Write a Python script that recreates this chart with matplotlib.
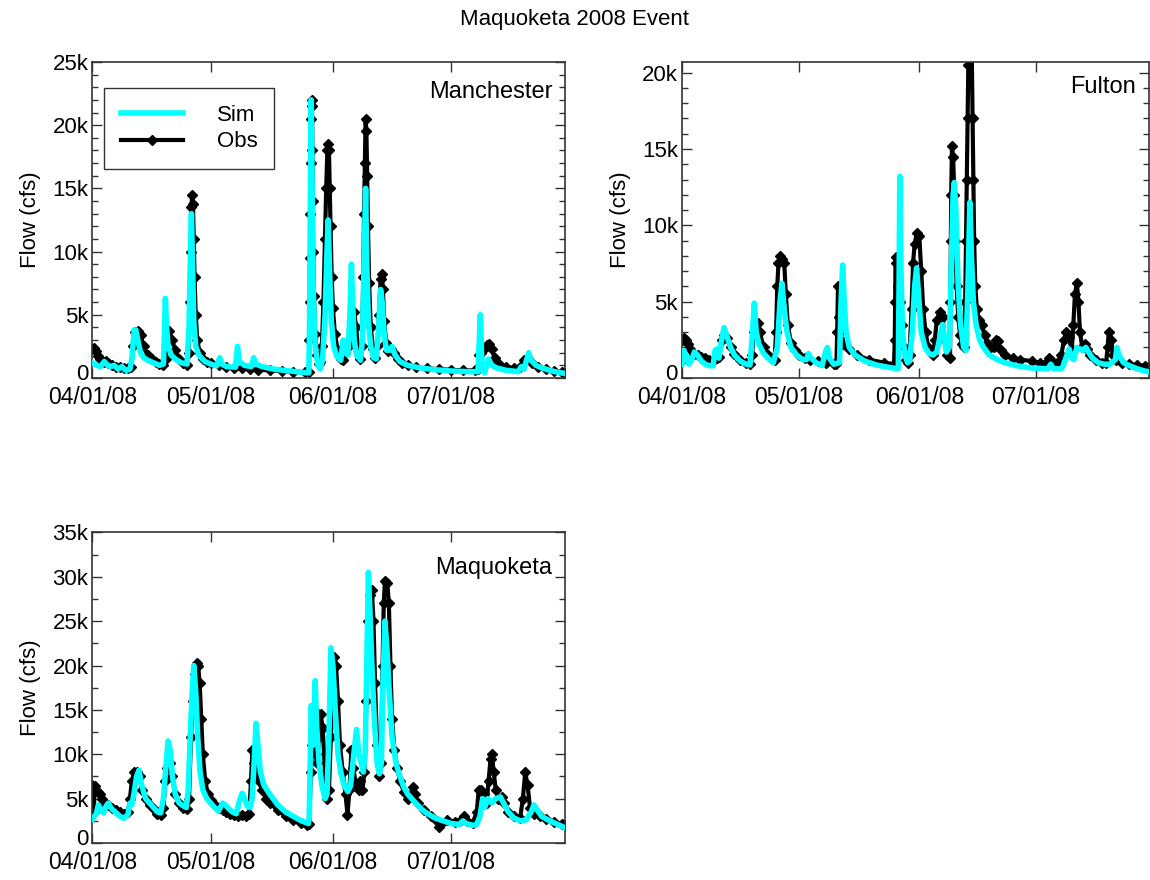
import numpy as np
import matplotlib
matplotlib.use("Agg")
import matplotlib.pyplot as plt
import matplotlib.dates as mdates
import matplotlib.transforms as mtransforms
from matplotlib.ticker import MultipleLocator, FuncFormatter

plt.rcParams['font.family'] = ['Liberation Sans', 'DejaVu Sans']

start = np.datetime64('2008-04-01T00:00')
end = np.datetime64('2008-07-30T00:00')

# ---- Manchester (days since 04/01/08, flow in cfs) ----
man_obs_day = [0.0, 0.5, 1.0, 1.5, 2.0, 3.0, 3.5, 4.0, 5.0, 6.0, 7.0, 8.0, 9.0, 9.8, 10.3, 10.8, 11.5, 12.2,
               13.0, 14.0, 15.0, 16.0, 17.0, 18.0, 18.6, 19.0, 19.5, 20.2, 21.0, 22.0, 23.0, 24.0, 24.4,
               24.7, 24.9, 25.1, 25.3, 25.5, 25.7, 25.9, 26.2, 26.6, 27.2, 28.0, 29.0, 30.0, 32.0, 34.0,
               36.0, 38.0, 40.0, 42.0, 45.0, 48.0, 51.0, 54.0, 54.9, 55.0, 55.1, 55.2, 55.3, 55.4, 55.5,
               55.6, 55.7, 55.8, 55.9, 56.0, 56.2, 56.5, 56.9, 57.4, 57.8, 58.2, 58.6, 59.0, 59.3, 59.6,
               59.8, 60.0, 60.2, 60.4, 60.7, 61.0, 61.5, 62.2, 63.0, 63.5, 64.0, 64.5, 65.2, 65.8, 66.4,
               66.9, 67.4, 68.0, 68.4, 68.7, 68.9, 69.1, 69.3, 69.5, 69.7, 69.9, 70.2, 70.6, 71.2, 71.8,
               72.3, 72.7, 73.1, 73.4, 73.7, 74.0, 74.5, 75.0, 75.8, 76.5, 77.5, 78.5, 80.0, 82.0, 85.0,
               88.0, 91.0, 94.0, 97.0, 97.7, 98.0, 98.5, 99.3, 100.0, 100.7, 101.3, 102.0, 103.0, 105.0,
               107.0, 108.5, 109.5, 110.5, 111.5, 113.0, 115.0, 117.0, 119.0, 120.0]
man_obs_cfs = [2300, 2350, 2100, 1700, 1500, 1300, 1350, 1200, 1000, 900, 850, 800, 750, 900, 2500, 3600, 3700, 3400,
               2500, 1800, 1500, 1300, 1100, 1000, 1500, 3000, 3700, 3000, 2200, 1500, 1200, 1000, 2000,
               6000, 10000, 13500, 14500, 13800, 11000, 8000, 5000, 3000, 2000, 1500, 1300, 1150, 1000, 900,
               800, 750, 700, 650, 600, 550, 500, 450, 450, 3000, 6000, 9500, 13000, 17000, 20500,
               22000, 21500, 18000, 14000, 10000, 6500, 3500, 1800, 1100, 1300, 2500, 6000, 11000, 15000, 18000,
               18500, 18000, 15000, 12000, 8000, 5500, 3500, 2200, 1500, 1400, 2000, 2800, 2500, 4000, 5200,
               4000, 2200, 1500, 2500, 8000, 13000, 17000, 20500, 19500, 16000, 12000, 7500, 4000, 2300, 1600,
               2500, 5000, 7800, 8200, 7000, 4500, 2800, 2100, 2300, 2000, 1500, 1200, 1000, 850, 750,
               700, 650, 600, 600, 700, 1800, 2000, 2300, 2600, 2700, 2300, 1600, 1200, 900,
               750, 900, 1400, 1500, 1200, 900, 700, 550, 450, 400]
man_sim_day = [0.0, 1.0, 2.0, 3.0, 3.5, 4.5, 5.5, 6.5, 7.5, 8.5, 9.5, 10.0, 10.6, 11.0, 11.5, 12.2, 13.0, 14.0,
               15.5, 17.0, 18.0, 18.3, 18.5, 18.8, 19.2, 20.0, 21.0, 22.5, 24.0, 24.5, 24.8, 25.1, 25.4, 25.7,
               26.2, 27.0, 28.5, 30.0, 31.5, 32.3, 32.8, 34.0, 36.3, 36.8, 37.3, 38.5, 40.3, 40.9, 41.5, 43.0,
               46.0, 50.0, 54.9, 55.1, 55.3, 55.5, 55.7, 56.0, 56.5, 57.2, 57.8, 58.4, 59.0, 59.5, 59.8, 60.2,
               60.6, 61.2, 62.0, 63.0, 63.6, 64.2, 64.8, 65.3, 65.7, 66.0, 66.4, 67.0, 68.0, 68.5, 68.9, 69.3,
               69.6, 70.0, 70.6, 71.3, 72.0, 72.6, 73.1, 73.5, 74.0, 74.6, 75.5, 76.0, 76.8, 78.0, 80.0, 83.0,
               87.0, 91.0, 95.0, 97.8, 98.2, 98.4, 98.7, 99.0, 99.5, 100.0, 100.5, 101.3, 102.5, 105.0, 108.0,
               108.8, 109.5, 110.2, 110.7, 111.3, 112.5, 114.0, 116.0, 118.0, 120.0]
man_sim_cfs = [1200, 1000, 900, 1300, 1100, 900, 1000, 700, 900, 600, 700, 1500, 3800, 3800, 3000, 2000, 1600, 1400,
               1200, 1000, 1100, 4000, 6300, 4000, 2500, 1800, 1500, 1200, 1100, 4000, 9000, 13000, 9000, 4500,
               2500, 1800, 1300, 1100, 950, 1600, 1100, 900, 850, 2500, 1300, 1000, 900, 1600, 1100, 900,
               700, 550, 400, 5000, 15000, 22000, 16000, 7000, 2500, 1000, 700, 1500, 5000, 10000, 12500, 8000,
               4500, 2500, 1700, 1400, 3000, 2000, 1800, 5000, 9000, 6000, 3000, 1800, 1400, 3000, 9000, 15000,
               9000, 4500, 2500, 1600, 1500, 4000, 7000, 6000, 3500, 2200, 2200, 2500, 1800, 1300, 1000, 800,
               650, 550, 500, 500, 3500, 5000, 2000, 600, 400, 1000, 1500, 1000, 800, 600, 500,
               900, 700, 1500, 2000, 1400, 1000, 800, 600, 450, 350]

# ---- Fulton ----
ful_obs_day = [0.0, 0.5, 1.0, 1.5, 2.0, 3.0, 4.0, 5.0, 6.0, 7.0, 8.0, 9.0, 9.5, 10.3, 10.8, 11.5, 12.5, 13.5,
               15.0, 16.5, 17.5, 18.0, 18.5, 19.0, 19.5, 20.0, 21.0, 22.0, 23.0, 23.8, 24.2, 24.5, 24.8, 25.2,
               25.8, 26.3, 26.7, 27.2, 28.0, 29.0, 30.0, 31.5, 33.0, 35.0, 37.0, 39.0, 39.7, 39.9, 40.1, 40.3,
               40.6, 41.0, 41.5, 43.0, 45.0, 48.0, 52.0, 54.5, 54.7, 54.8, 54.9, 55.0, 55.4, 56.0, 56.5, 57.0,
               57.5, 58.0, 58.5, 59.0, 59.4, 59.8, 60.4, 61.0, 61.5, 62.0, 62.6, 63.3, 64.0, 64.6, 65.0, 65.5,
               66.2, 67.0, 67.5, 68.0, 68.9, 69.0, 69.1, 69.2, 69.4, 69.7, 70.0, 70.3, 70.6, 71.0, 71.5, 72.0,
               72.4, 72.8, 73.0, 73.2, 73.4, 73.6, 73.8, 74.2, 74.5, 74.7, 74.9, 75.1, 75.4, 75.8, 76.3, 77.0,
               77.8, 78.5, 79.5, 80.3, 80.8, 81.3, 81.9, 83.0, 85.0, 87.0, 90.0, 92.0, 93.5, 94.4, 95.2, 96.5,
               97.5, 98.2, 98.7, 99.4, 100.2, 100.6, 101.0, 101.5, 101.9, 102.3, 102.9, 103.5, 104.2, 105.0,
               106.5, 108.0, 109.0, 109.4, 109.7, 110.3, 110.8, 111.5, 113.0, 115.0, 117.0, 119.0, 120.0]
ful_obs_cfs = [2500, 2600, 2500, 2200, 1900, 1600, 1500, 1400, 1300, 1200, 1100, 1300, 1400, 2500, 2800, 2600, 2000, 1600,
               1200, 1000, 900, 1500, 3000, 3500, 3600, 3000, 2000, 1500, 1300, 1200, 3000, 6000, 7500, 8000,
               7800, 7500, 5500, 3500, 2300, 1800, 1500, 1300, 1200, 1100, 1000, 900, 900, 3000, 6000, 4000,
               3000, 2500, 2200, 1900, 1500, 1200, 1000, 900, 2500, 5000, 7900, 7500, 6000, 5000, 3500, 2000,
               1200, 1000, 1500, 4500, 7500, 8800, 9500, 9300, 7000, 4500, 3000, 2000, 1700, 1500, 2500, 3800,
               4300, 4000, 2500, 1500, 1300, 5000, 9000, 12000, 15200, 14500, 12000, 9000, 6000, 4000, 2800, 2200,
               2000, 5000, 9000, 13000, 17000, 20500, 22000, 22500, 21000, 17000, 13000, 9000, 6000, 4500, 3800, 3500,
               2800, 2300, 2000, 2000, 2500, 2400, 1800, 1500, 1300, 1200, 1100, 1000, 1000, 1300, 1100, 1000,
               1500, 2500, 3000, 2700, 1800, 3500, 5500, 6200, 5000, 3000, 2000, 2200, 1900, 1500,
               1200, 1000, 1000, 2000, 3000, 2500, 1500, 1200, 1000, 900, 850, 800, 750]
ful_sim_day = [0.0, 0.5, 1.0, 1.8, 2.5, 3.2, 4.0, 5.0, 6.0, 7.0, 8.0, 8.5, 9.0, 9.5, 10.0, 10.8, 11.5, 12.5,
               13.5, 15.0, 16.5, 17.5, 18.0, 18.6, 19.1, 19.8, 21.0, 22.5, 23.5, 24.5, 25.2, 25.7, 26.3, 27.0,
               28.0, 29.5, 31.0, 32.0, 32.5, 33.2, 34.5, 36.0, 37.0, 37.4, 37.9, 39.0, 40.5, 40.9, 41.3, 41.7,
               42.2, 43.0, 44.5, 47.0, 50.0, 53.0, 55.6, 55.8, 56.0, 56.3, 56.7, 57.3, 58.0, 58.5, 59.2, 59.8,
               60.3, 60.8, 61.5, 62.5, 63.5, 64.5, 65.5, 66.4, 67.0, 67.5, 68.0, 68.7, 69.3, 69.7, 70.0, 70.4,
               71.0, 71.6, 72.4, 73.0, 73.5, 74.0, 74.4, 74.9, 75.6, 76.5, 77.5, 79.0, 81.0, 83.0, 86.0, 90.0,
               94.0, 94.8, 95.5, 97.5, 98.0, 99.5, 100.2, 100.7, 101.5, 102.3, 103.0, 103.8, 104.5, 105.5, 107.0,
               108.5, 110.0, 111.4, 111.8, 112.3, 113.5, 115.0, 117.0, 119.0, 120.0]
ful_sim_cfs = [900, 1800, 1500, 900, 1200, 1700, 1500, 1100, 900, 800, 800, 1800, 1900, 1300, 2200, 3300, 2800, 2000,
               1500, 1100, 900, 850, 2500, 4900, 3000, 2200, 1600, 1200, 1000, 2000, 5000, 6200, 4500, 3000,
               2000, 1500, 1200, 1200, 1600, 1300, 1000, 800, 1800, 2000, 1300, 900, 1000, 5000, 7400, 5000,
               3000, 2000, 1500, 1100, 850, 700, 600, 6000, 13200, 7000, 3000, 1500, 1000, 1100, 3000, 6000,
               7200, 5500, 3000, 2000, 1600, 1500, 1700, 2800, 3500, 2500, 1700, 2000, 8000, 12000, 12800, 11000,
               6000, 3500, 2000, 1800, 6000, 11500, 8000, 5000, 3500, 2500, 2000, 1500, 1200, 1000, 800, 650,
               600, 900, 600, 600, 800, 1900, 1300, 1200, 2000, 1900, 1800, 2000, 1700, 1300, 1000,
               900, 900, 1200, 2000, 1500, 1000, 800, 600, 450, 400]

# ---- Maquoketa ----
maq_obs_day = [0.0, 0.3, 0.6, 1.0, 1.5, 2.0, 2.5, 3.0, 4.0, 5.0, 6.0, 7.0, 8.0, 9.0, 9.5, 10.0, 10.6, 11.3,
               12.0, 12.5, 13.5, 14.5, 15.5, 16.5, 17.3, 18.0, 18.5, 19.0, 19.7, 20.3, 21.0, 22.0, 23.0, 24.0,
               24.5, 25.0, 25.5, 26.0, 26.4, 26.8, 27.2, 27.6, 28.0, 28.6, 29.3, 30.0, 31.0, 32.0, 33.0, 34.0,
               35.0, 36.0, 37.0, 38.0, 39.0, 39.8, 40.2, 40.6, 41.0, 41.5, 42.2, 43.0, 44.0, 45.0, 47.0, 49.0,
               51.0, 53.0, 54.5, 55.0, 55.4, 55.8, 56.2, 56.6, 57.0, 57.5, 57.9, 58.4, 59.0, 59.5, 60.0, 60.5,
               61.0, 61.4, 61.8, 62.3, 62.8, 63.5, 64.2, 64.7, 65.2, 65.7, 66.2, 66.8, 67.5, 68.0, 68.5, 69.0,
               69.5, 70.0, 70.5, 70.9, 71.3, 71.7, 72.2, 72.8, 73.2, 73.6, 73.9, 74.2, 74.8, 75.2, 75.6, 76.0,
               76.6, 77.3, 78.0, 79.0, 80.0, 80.8, 81.3, 81.8, 82.5, 84.0, 86.0, 87.5, 88.0, 88.8, 90.0, 92.0,
               93.5, 94.2, 95.0, 96.5, 97.5, 98.0, 98.6, 99.3, 100.0, 100.5, 101.0, 101.3, 101.8, 102.3, 103.0,
               103.8, 104.5, 105.5, 107.0, 108.5, 109.2, 109.8, 110.4, 111.0, 112.0, 113.5, 115.0, 117.0, 119.0,
               120.0]
maq_obs_cfs = [6500, 3500, 6400, 6000, 5800, 5500, 5000, 4500, 4300, 4000, 3700, 3500, 3300, 3500, 5000, 7000, 8000, 8000,
               7500, 6000, 5000, 4300, 3800, 3300, 3200, 4000, 7000, 8500, 9000, 7500, 5500, 4500, 4000, 3800,
               5000, 12000, 16000, 19000, 20300, 20000, 18000, 14000, 10000, 7000, 5500, 4800, 4300, 4000, 3700, 3500,
               3300, 3200, 3100, 3200, 3100, 3300, 7000, 10500, 9000, 8000, 7000, 6000, 5000, 4500, 3700, 3000,
               2600, 2300, 2000, 2200, 8000, 11000, 15000, 10000, 9000, 12000, 14500, 13000, 8000, 5000, 6000, 12000,
               18000, 21000, 20000, 16000, 11000, 8000, 5500, 3200, 6000, 10500, 8500, 6500, 6000, 7000, 6000, 8000,
               16000, 25000, 28000, 28500, 25000, 18000, 11000, 7600, 9000, 20000, 27000, 29500, 29300, 27000, 20000, 14000,
               10500, 8500, 7000, 5800, 5000, 5500, 6300, 5500, 4500, 3700, 3000, 2500, 1800, 2300, 2600, 2400,
               2600, 3000, 2500, 2300, 3500, 6000, 6000, 5500, 4500, 7000, 9500, 10000, 8000, 6000, 5000,
               5200, 4500, 3500, 3000, 2800, 5000, 8000, 6500, 4000, 3300, 3000, 2700, 2400, 2100,
               2000]
maq_sim_day = [0.0, 0.5, 1.0, 1.5, 2.0, 2.8, 3.5, 4.0, 4.8, 5.8, 7.0, 8.0, 9.0, 9.5, 10.0, 10.5, 11.2, 11.8,
               12.5, 13.5, 14.5, 15.5, 16.5, 17.3, 18.0, 18.7, 19.2, 19.7, 20.3, 21.0, 22.0, 23.0, 23.8, 24.3,
               24.8, 25.3, 25.7, 26.2, 26.7, 27.3, 28.0, 29.0, 30.0, 31.0, 32.0, 33.0, 33.7, 34.5, 35.5, 36.5,
               37.3, 38.0, 38.6, 39.2, 40.0, 40.5, 41.0, 41.5, 42.0, 42.6, 43.5, 45.0, 47.0, 49.0, 51.0, 53.0,
               54.8, 55.0, 55.5, 55.9, 56.2, 56.5, 56.9, 57.5, 58.2, 59.0, 59.5, 60.0, 60.5, 61.0, 61.6, 62.3,
               63.0, 63.8, 64.8, 65.5, 66.3, 67.0, 67.6, 68.2, 68.7, 69.2, 69.6, 70.0, 70.4, 70.9, 71.5, 72.2,
               72.8, 73.3, 73.7, 74.2, 74.7, 75.3, 76.0, 77.0, 78.0, 79.0, 80.0, 81.0, 82.0, 83.5, 85.0, 87.0,
               89.0, 91.0, 93.0, 94.0, 94.8, 96.5, 97.5, 98.3, 99.0, 99.5, 100.3, 101.3, 102.3, 103.5, 104.3,
               105.5, 107.0, 108.5, 110.0, 111.3, 112.0, 112.7, 114.0, 116.0, 118.0, 120.0]
maq_sim_cfs = [2700, 3000, 3300, 4300, 3900, 3400, 4200, 4500, 3900, 3500, 3000, 2800, 3200, 4500, 4300, 5500, 7500, 8200,
               6500, 5000, 4500, 4000, 3500, 3400, 5000, 9000, 11500, 10500, 7500, 5500, 4500, 4200, 4000, 6000,
               12000, 17000, 20000, 17000, 12000, 8000, 6000, 5000, 4500, 4000, 3600, 4500, 4300, 3900, 3500, 3300,
               4800, 5600, 5000, 4200, 4000, 5000, 9000, 13500, 11000, 8000, 6500, 5500, 4300, 3500, 3000, 2500,
               2200, 3000, 15500, 11000, 12000, 18300, 13000, 9000, 6500, 5000, 5500, 12000, 22000, 20000, 15000, 10000,
               8000, 6500, 5800, 6500, 10000, 12800, 10000, 9000, 8000, 10000, 20000, 30500, 26000, 20000, 14000, 9000,
               7800, 9000, 18000, 25000, 22000, 17000, 12000, 9000, 7500, 6300, 5500, 5000, 4500, 3800, 3300, 2800,
               2500, 2200, 2100, 2500, 2200, 2000, 2100, 3000, 5000, 4000, 5000, 4500, 5000, 5200, 4500,
               3500, 2800, 2500, 2600, 3500, 4300, 3800, 3000, 2500, 2100, 1700]

sites = ["Manchester", "Fulton", "Maquoketa"]
y_top = [25000, 20700, 35000]
y_minor = [1000, 1000, 2500]


def to_time(days):
    return start + (np.array(days) * 24 * 60).astype('timedelta64[m]')


def k_fmt(v, pos):
    return "0" if v == 0 else f"{v / 1000:g}k"


fig = plt.figure(figsize=(11.5, 8.8), dpi=100)
fig.suptitle("Maquoketa 2008 Event", fontsize=16, y=0.99, va='top')

boxes = [[0.0804, 0.5705, 0.4113, 0.3591],
         [0.5930, 0.5705, 0.4060, 0.3591],
         [0.0804, 0.0420, 0.4113, 0.3530]]
series = [(man_obs_day, man_obs_cfs, man_sim_day, man_sim_cfs),
          (ful_obs_day, ful_obs_cfs, ful_sim_day, ful_sim_cfs),
          (maq_obs_day, maq_obs_cfs, maq_sim_day, maq_sim_cfs)]
label_y = [0.905, 0.92, 0.885]
axes = []

for i, (box, (od, oq, sd, sq)) in enumerate(zip(boxes, series)):
    ax = fig.add_axes(box)
    axes.append(ax)
    obs, = ax.plot(to_time(od), oq, color='black', lw=3.0, marker='D', ms=5.5,
                   mec='black', mfc='black', label='Obs', zorder=2)
    sim, = ax.plot(to_time(sd), sq, color='#00ffff', lw=4.0, label='Sim', zorder=3,
                   solid_joinstyle='round')
    ax.set_xlim(start, end)
    ax.set_ylim(0, y_top[i])
    ax.xaxis.set_major_locator(mdates.MonthLocator())
    ax.xaxis.set_major_formatter(mdates.DateFormatter('%m/%d/%y'))
    ax.yaxis.set_major_locator(MultipleLocator(5000))
    ax.yaxis.set_minor_locator(MultipleLocator(y_minor[i]))
    ax.yaxis.set_major_formatter(FuncFormatter(k_fmt))
    ax.tick_params(which='both', direction='in', top=True, right=True, color='#333333')
    ax.tick_params(which='major', length=7, width=1)
    ax.tick_params(which='minor', length=4, width=1)
    ax.tick_params(axis='x', labelsize=16.5, pad=6)
    ax.tick_params(axis='y', labelsize=16, pad=3)
    for s in ax.spines.values():
        s.set_color('#333333')
        s.set_linewidth(1.2)
    ax.set_ylabel("Flow (cfs)", fontsize=16, labelpad=8)
    ax.text(0.972, label_y[i], sites[i], transform=ax.transAxes, ha='right', va='center', fontsize=17)
    if i == 0:
        leg = ax.legend(handles=[sim, obs], loc='upper left', bbox_to_anchor=(0.025, 0.917),
                        borderaxespad=0, fontsize=16, handlelength=2.8, handletextpad=1.5,
                        borderpad=0.75, labelspacing=0.25, numpoints=1, fancybox=False,
                        framealpha=1, edgecolor='#333333')
        leg.get_frame().set_linewidth(1.0)

# the "0" labels sit right on the bottom spine; lift them a little off the dates
fig.canvas.draw()
lift = mtransforms.ScaledTranslation(0, 4 / 72, fig.dpi_scale_trans)
for ax in axes:
    for lab in ax.get_yticklabels():
        if lab.get_text() == "0":
            lab.set_transform(lab.get_transform() + lift)

fig.savefig("out.png", dpi=100)
